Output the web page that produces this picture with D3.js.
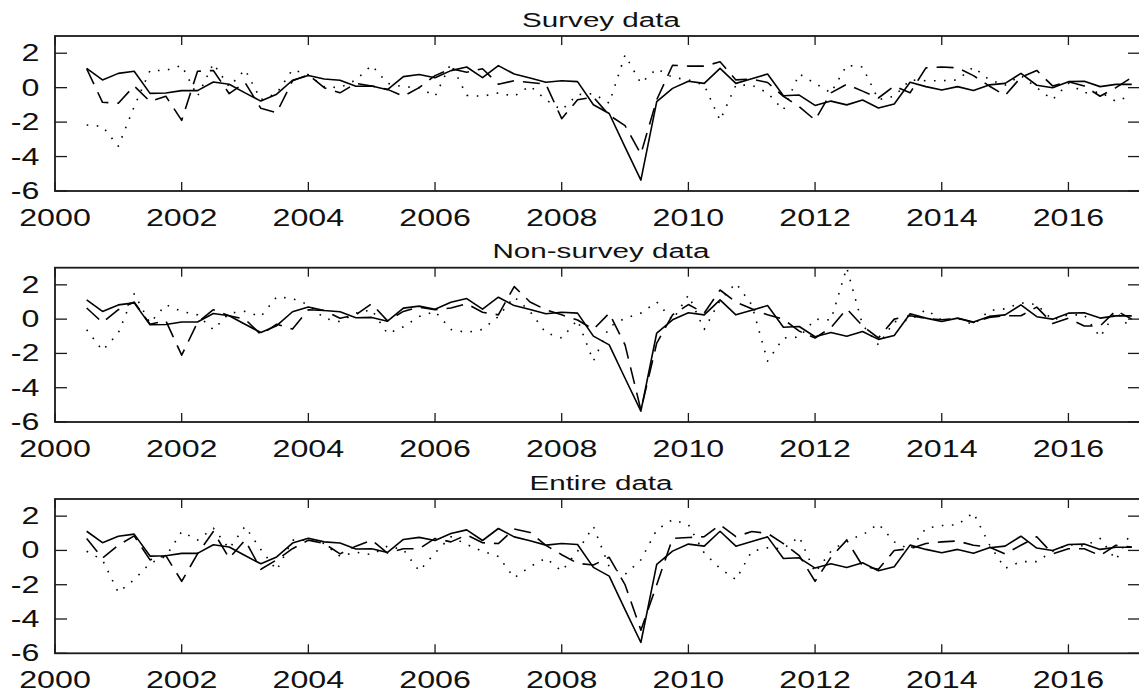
<!DOCTYPE html>
<html>
<head>
<meta charset="utf-8">
<script src="https://cdn.jsdelivr.net/npm/d3@7"></script>
<style>
  html, body { margin: 0; padding: 0; background: #fff; }
  svg { display: block; }
  text { font-family: "Liberation Sans", Arial, Helvetica, sans-serif; fill: #111; }
</style>
</head>
<body>
<svg id="chart" width="1139" height="692"></svg>
<script>
// Quarterly observations, 2000Q3 .. 2017Q1
const firstQuarter = 2000.5;
const quarterCount = 67;
const quarters = d3.range(quarterCount).map(i => firstQuarter + i * 0.25);

// Realised series (solid line, identical in every panel)
const actual = [1.12, 0.45, 0.83, 0.95, -0.33, -0.31, -0.17, -0.17, 0.33, 0.2,
  -0.3, -0.78, -0.38, 0.43, 0.71, 0.5, 0.43, 0.08, 0.1, -0.12,
  0.64, 0.76, 0.58, 0.99, 1.2, 0.58, 1.28, 0.79, 0.56, 0.31,
  0.4, 0.35, -0.99, -1.5, -3.45, -5.37, -0.81, -0.04, 0.37, 0.25,
  1.12, 0.25, 0.52, 0.79, -0.47, -0.43, -1.03, -0.78, -1.0, -0.72,
  -1.18, -0.95, 0.31, 0.06, -0.14, 0.06, -0.17, 0.16, 0.25, 0.83,
  0.14, 0.0, 0.35, 0.37, 0.06, 0.19, 0.19];

// Survey data: dashed and dotted estimates
const surveyDashed = [1.1, -0.85, -0.9, 0.1, -0.8, -0.5, -1.9, 0.95, 1.0, -0.35,
  0.3, -1.2, -1.45, 0.4, 0.75, 0.0, -0.3, 0.25, 0.1, -0.1,
  -0.5, 0.0, 0.7, 1.1, 0.9, 1.1, 0.2, 0.4, 0.3, 0.2,
  -1.8, -0.7, -0.55, -1.6, -2.2, -3.85, -0.7, 1.3, 1.25, 1.25,
  1.5, 0.45, 0.5, 0.3, -0.5, -1.1, -1.88, -0.3, 0.2, -0.2,
  -0.6, 0.1, -0.3, 1.15, 1.2, 1.15, 0.7, 0.1, -0.45, 0.6,
  1.0, 0.1, 0.35, 0.1, -0.5, 0.0, 0.6];
const surveyDotted = [-2.17, -2.25, -3.4, -1.1, 1.0, 1.0, 1.3, -0.5, 1.4, 0.05,
  1.05, -0.7, -0.33, 1.05, 0.75, 0.05, 0.0, 0.45, 1.3, 0.25,
  0.05, 0.0, -0.5, 1.4, -0.45, -0.5, -0.3, -0.5, 0.1, -0.7,
  -1.3, -0.4, -0.35, -0.9, 1.9, 0.25, 1.1, 0.6, 0.45, 0.15,
  -1.9, 0.15, 0.15, -0.3, -1.3, 0.8, 0.25, -0.3, 1.3, 1.2,
  -0.7, -0.5, 0.45, 0.4, 0.4, 0.45, 1.2, 0.45, 0.15, 0.7,
  0.0, -0.7, 0.25, -0.3, -0.25, -0.8, -0.45];

// Non-survey data
const nonSurveyDashed = [0.65, -0.2, 0.55, 1.0, -0.3, -0.1, -2.1, -0.2, 0.55, 0.2,
  0.0, -0.9, -0.3, -0.58, 0.55, 0.5, 0.05, 0.25, 0.9, -0.1,
  0.45, 0.7, 0.55, 0.65, 0.9, 0.4, 0.25, 1.9, 1.0, 0.55,
  0.25, -0.05, -0.6, 0.35, -1.5, -5.3, -1.4, 0.25, 0.85, 0.35,
  1.7, 1.0, 0.6, 0.25, 0.0, -0.7, -1.1, -0.5, 0.6, -0.4,
  -1.1, 0.0, 0.2, 0.05, -0.04, 0.05, -0.2, 0.1, 0.2, 0.2,
  0.7, -0.25, 0.05, -0.4, -0.4, 0.5, 0.0];
const nonSurveyDotted = [-0.62, -1.83, -0.8, 1.48, -0.23, 0.84, 0.45, 0.25, -0.62, 0.35,
  0.45, 0.15, 1.3, 1.2, 0.84, 0.05, -0.15, 0.35, 0.55, -0.85,
  -0.45, 0.15, 0.45, -0.6, -0.78, -0.6, 0.15, 1.3, 0.45, -0.8,
  -1.1, -0.05, -2.45, -0.45, 0.05, 0.35, 1.0, -0.05, 1.4, -0.6,
  1.1, 2.1, 0.84, -2.45, -1.1, -1.05, 0.0, -0.05, 3.0, -0.33,
  -1.5, -0.15, -0.05, 0.55, -0.05, 0.05, -0.33, 0.5, 0.6, 0.95,
  0.85, -0.05, 0.25, 0.25, -1.05, 0.45, -0.62];

// Entire data
const entireDashed = [0.7, -0.45, 0.3, 0.85, -0.55, -0.3, -1.8, -0.2, 1.1, -0.45,
  0.6, -1.1, -0.55, 0.1, 0.6, 0.4, -0.2, 0.25, 0.6, -0.15,
  0.1, 0.1, 0.7, 0.5, 0.9, 0.45, 0.4, 1.25, 1.05, 0.3,
  -0.25, -0.75, -0.85, -0.4, -2.0, -4.65, -2.0, 0.7, 0.75, 0.8,
  1.5, 0.8, 1.1, 1.0, 0.4, -0.3, -1.8, -0.4, 0.6, -0.9,
  -1.1, 0.0, 0.1, 0.4, 0.5, 0.55, 0.3, 0.2, -0.2, 0.3,
  0.8, -0.2, 0.1, 0.1, -0.3, 0.3, 0.2];
const entireDotted = [-0.05, -0.55, -2.45, -1.7, -0.75, -0.35, 1.1, 0.6, 1.3, 0.1,
  1.4, 0.05, -1.15, 0.6, 0.6, 0.4, -0.35, -0.1, -0.25, 0.25,
  0.05, -1.2, -0.15, 0.8, 0.35, -0.05, -0.35, -1.6, -0.95, -0.45,
  -1.2, -0.05, 1.4, -0.95, -1.4, -0.55, 1.2, 1.8, 1.5, -0.15,
  -1.05, -1.7, -0.05, 0.15, 0.1, 0.8, -1.3, -0.05, 0.6, 0.9,
  1.55, 0.5, 0.05, 1.3, 1.45, 1.5, 2.2, 0.35, -1.05, -0.65,
  -0.65, -0.05, 0.35, 0.25, 0.7, -0.55, 1.1];

const panelTitles = ["Survey data", "Non-survey data", "Entire data"];
const xTickValues = [2000, 2002, 2004, 2006, 2008, 2010, 2012, 2014, 2016];
const yTickValues = [-6, -4, -2, 0, 2];

const panels = [
  { title: panelTitles[0], dashed: surveyDashed, dotted: surveyDotted, top: 36, bottom: 191 },
  { title: panelTitles[1], dashed: nonSurveyDashed, dotted: nonSurveyDotted, top: 267.7, bottom: 422 },
  { title: panelTitles[2], dashed: entireDashed, dotted: entireDotted, top: 499, bottom: 653.3 }
];

const svg = d3.select("#chart");
const left = 55, right = 1140;
const x = d3.scaleLinear().domain([2000, 2017.13]).range([left, right]);

const tickStretch = 1.4;   // wide glyphs for tick labels
const titleStretch = 1.48; // wide glyphs for panel titles
const axisColor = "#1a1a1a";

panels.forEach((p, k) => {
  const y = d3.scaleLinear().domain([-6, 3]).range([p.bottom, p.top]);
  const g = svg.append("g");

  const clipId = "clip" + k;
  svg.append("clipPath").attr("id", clipId)
    .append("rect").attr("x", left).attr("y", p.top)
    .attr("width", right - left).attr("height", p.bottom - p.top);

  // series
  const line = d3.line().x((d, i) => x(quarters[i])).y(d => y(d));
  const series = [
    { values: actual, dash: null },
    { values: p.dashed, dash: "17,9" },
    { values: p.dotted, dash: "1.6,8.5" }
  ];
  g.append("g").attr("clip-path", `url(#${clipId})`)
    .selectAll("path").data(series).join("path")
    .attr("d", s => line(s.values))
    .attr("fill", "none")
    .attr("stroke", "#000")
    .attr("stroke-width", 1.6)
    .attr("stroke-linejoin", "round")
    .attr("stroke-dasharray", s => s.dash);

  // box
  g.append("rect")
    .attr("x", left).attr("y", p.top)
    .attr("width", right - left).attr("height", p.bottom - p.top)
    .attr("fill", "none").attr("stroke", axisColor).attr("stroke-width", 1.8);

  // x ticks (bottom and top, inward)
  const xt = g.append("g").attr("stroke", axisColor).attr("stroke-width", 1.3);
  xTickValues.forEach(v => {
    xt.append("line").attr("x1", x(v)).attr("x2", x(v)).attr("y1", p.bottom).attr("y2", p.bottom - 9);
    xt.append("line").attr("x1", x(v)).attr("x2", x(v)).attr("y1", p.top).attr("y2", p.top + 9);
  });
  // y ticks (left and right, inward)
  yTickValues.forEach(v => {
    xt.append("line").attr("x1", left).attr("x2", left + 12).attr("y1", y(v)).attr("y2", y(v));
    xt.append("line").attr("x1", right).attr("x2", right - 12).attr("y1", y(v)).attr("y2", y(v));
  });

  // x tick labels
  g.selectAll("text.xl").data(xTickValues).join("text")
    .attr("class", "xl")
    .attr("transform", v => `translate(${x(v)},${p.bottom + 34.7}) scale(${tickStretch},1)`)
    .attr("text-anchor", "middle")
    .attr("font-size", 23)
    .text(v => v);

  // y tick labels
  g.selectAll("text.yl").data(yTickValues).join("text")
    .attr("class", "yl")
    .attr("transform", v => `translate(39.5,${y(v) + 8}) scale(${tickStretch},1)`)
    .attr("text-anchor", "end")
    .attr("font-size", 23)
    .text(v => v);

  // title
  g.append("text")
    .attr("transform", `translate(601,${p.top - 9.4}) scale(${titleStretch},1)`)
    .attr("text-anchor", "middle")
    .attr("font-size", 20)
    .text(p.title);
});
</script>
</body>
</html>
